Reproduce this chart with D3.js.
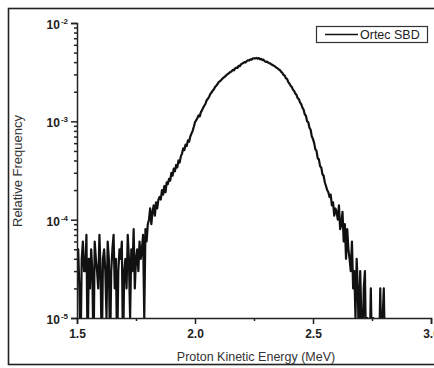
<!DOCTYPE html>
<html>
<head>
<meta charset="utf-8">
<script src="https://cdn.jsdelivr.net/npm/d3@7"></script>
<style>
  body { margin: 0; background: #fff; }
  svg { display: block; font-family: "Liberation Sans", Arial, sans-serif; }
</style>
</head>
<body>
<div id="chart"></div>
<script>
// histogram bins, 5 keV wide starting at 1.5 MeV
var binStart = 1.5;
var binWidth = 0.005;
var totalCounts = 100000;

// counts per bin (Ortec SBD)
var counts = [
  3,5,2,0,4,6,3,3,7,0,
  4,2,5,3,0,6,4,3,2,7,
  3,0,4,5,3,1,6,4,0,3,
  5,7,2,4,0,3,5,4,6,0,
  3,4,2,7,4,1,5,3,8,2,
  4,5,3,6,4,
  5,7,1,8,6,9,
  10,13,9,12,14,11,15,13,16,17,
  16,20,18,22,19,24,23,26,25,30,
  28,33,31,36,34,40,38,44,47,53,
  51,58,56,64,62,70,75,80,88,98,
  102,108,115,112,124,130,138,145,152,165,
  170,178,190,196,205,212,224,230,238,250,
  255,262,270,278,282,290,298,304,310,318,
  322,334,330,346,352,350,366,364,380,386,
  394,400,398,412,418,416,428,424,436,438,
  436,442,434,440,428,432,420,424,410,402,
  404,396,390,386,378,372,366,360,352,346,
  336,332,318,312,296,292,274,270,252,242,
  230,224,210,204,192,186,172,168,156,150,
  138,132,118,114,100,98,86,82,70,66,
  60,52,50,42,41,35,34,29,28,24,
  22,20,19,17,18,14,15,11,13,12,
  10,14,8,9,12,6,9,4,8,5,
  4,3,6,2,3,1,4,2,0,3,
  1,0,2,3,0,1,0,0,2,0,
  1,0,0,0,0,0,2,0,1,2,
  0,0,0,0,0,0
];

var xTicks = [1.5, 2.0, 2.5, 3.0];
var xMinorTicks = [1.75, 2.25, 2.75];
var yTicks = [1e-5, 1e-4, 1e-3, 1e-2];
var yTickExp = ["-5", "-4", "-3", "-2"];
var seriesName = "Ortec SBD";

var width = 434, height = 368;
var margin = {left: 77, right: 3, top: 23, bottom: 50};

var svg = d3.select("#chart").append("svg")
    .attr("width", width)
    .attr("height", height);

// outer frame of the figure
svg.append("rect")
    .attr("x", 8.5).attr("y", 8.5)
    .attr("width", 440).attr("height", 356)
    .attr("fill", "none")
    .attr("stroke", "#222")
    .attr("stroke-width", 1.6);

var x = d3.scaleLinear()
    .domain([1.5, 3.0])
    .range([margin.left, width - margin.right]);

var y = d3.scaleLog()
    .domain([1e-5, 1e-2])
    .range([height - margin.bottom, margin.top]);

var data = counts.map(function(c, i) {
    return {e: binStart + i * binWidth, f: c / totalCounts};
});

svg.append("defs").append("clipPath")
    .attr("id", "plot-clip")
    .append("rect")
    .attr("x", margin.left).attr("y", margin.top)
    .attr("width", width - margin.left - margin.right)
    .attr("height", height - margin.top - margin.bottom);

var line = d3.line()
    .x(function(d) { return x(d.e); })
    .y(function(d) { return y(Math.max(d.f, 4e-6)); });

svg.append("path")
    .datum(data)
    .attr("clip-path", "url(#plot-clip)")
    .attr("fill", "none")
    .attr("stroke", "#111")
    .attr("stroke-width", 2.2)
    .attr("stroke-linejoin", "round")
    .attr("d", line);

// x axis
var xAxis = svg.append("g")
    .attr("transform", "translate(0," + y.range()[0] + ")")
    .call(d3.axisBottom(x).tickValues(xTicks).tickSize(6).tickFormat(d3.format(".1f")));
svg.append("g")
    .attr("transform", "translate(0," + y.range()[0] + ")")
    .call(d3.axisBottom(x).tickValues(xMinorTicks).tickSize(3).tickFormat(""))
    .select(".domain").remove();

xAxis.selectAll("text")
    .attr("font-size", 12)
    .attr("font-weight", "bold")
    .attr("fill", "#222")
    .attr("dy", "0.95em");

// y axis
var yMinor = [];
yTicks.slice(0, -1).forEach(function(t) {
    for (var k = 2; k <= 9; k++) yMinor.push(t * k);
});

var yAxis = svg.append("g")
    .attr("transform", "translate(" + margin.left + ",0)")
    .call(d3.axisLeft(y).tickValues(yTicks).tickSize(6).tickFormat(""));
svg.append("g")
    .attr("transform", "translate(" + margin.left + ",0)")
    .call(d3.axisLeft(y).tickValues(yMinor).tickSize(3).tickFormat(""))
    .select(".domain").remove();

yAxis.selectAll(".tick").each(function(d, i) {
    var t = d3.select(this).append("text")
        .attr("x", -9)
        .attr("dy", "0.45em")
        .attr("text-anchor", "end")
        .attr("fill", "#222")
        .attr("font-size", 12)
        .attr("font-weight", "bold");
    t.append("tspan").text("10");
    t.append("tspan")
        .attr("dy", "-0.6em")
        .attr("dx", "1")
        .attr("font-size", 8)
        .text(yTickExp[yTicks.indexOf(d)]);
});

svg.selectAll(".domain, .tick line")
    .attr("stroke", "#222")
    .attr("stroke-width", 1.5);

// axis titles
svg.append("text")
    .attr("x", 256)
    .attr("y", 361)
    .attr("text-anchor", "middle")
    .attr("font-size", 12.5)
    .attr("fill", "#333")
    .text("Proton Kinetic Energy (MeV)");

svg.append("text")
    .attr("transform", "translate(22,171) rotate(-90)")
    .attr("text-anchor", "middle")
    .attr("font-size", 13)
    .attr("fill", "#333")
    .text("Relative Frequency");

// legend
var legend = svg.append("g");
legend.append("rect")
    .attr("x", 316.5).attr("y", 26.5)
    .attr("width", 111).attr("height", 16)
    .attr("fill", "#fff")
    .attr("stroke", "#333")
    .attr("stroke-width", 1.2);
legend.append("line")
    .attr("x1", 325).attr("x2", 358)
    .attr("y1", 34.5).attr("y2", 34.5)
    .attr("stroke", "#111")
    .attr("stroke-width", 1.5);
legend.append("text")
    .attr("x", 360)
    .attr("y", 39)
    .attr("font-size", 12.5)
    .attr("fill", "#222")
    .text(seriesName);
</script>
</body>
</html>
